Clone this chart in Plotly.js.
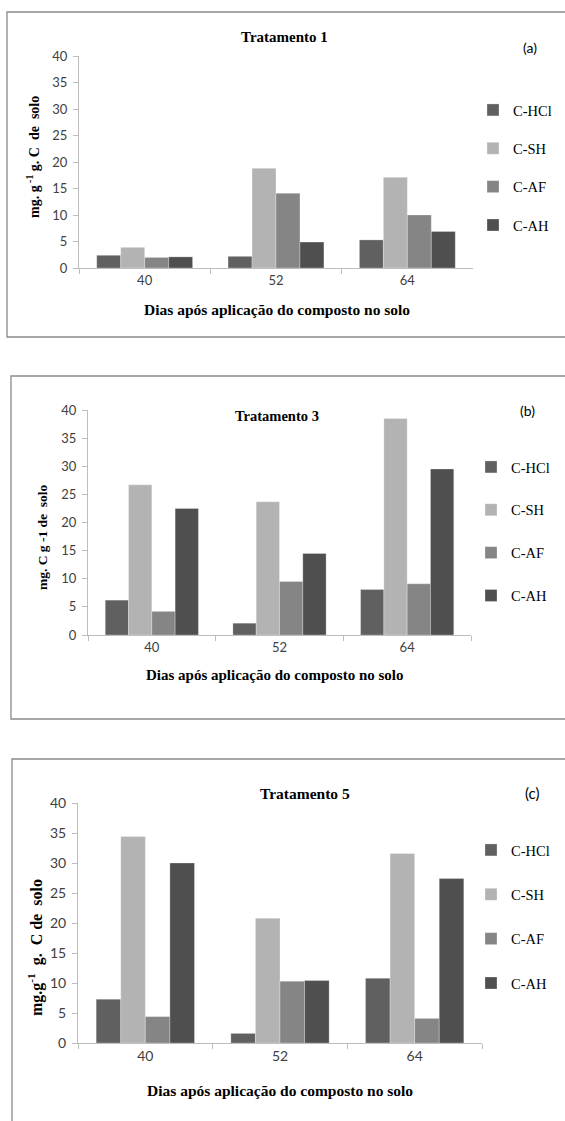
<!DOCTYPE html>
<html>
<head>
<meta charset="utf-8">
<script src="https://cdn.plot.ly/plotly-3.0.1.min.js"></script>
<style>
  html, body { margin: 0; padding: 0; background: #ffffff; }
  #chart { width: 565px; height: 1121px; }
</style>
</head>
<body>
<div id="chart"></div>
<script>
// Days after compost application (categories)
const days = ['40', '52', '64'];
// Carbon fractions
const fractions = ['C-HCl', 'C-SH', 'C-AF', 'C-AH'];

// Tratamento 1 (mg C g-1 soil)
const t1_hcl = [2.4, 2.2, 5.3];
const t1_sh  = [3.9, 18.8, 17.1];
const t1_af  = [2.0, 14.1, 10.0];
const t1_ah  = [2.1, 4.9, 6.9];

// Tratamento 3
const t3_hcl = [6.2, 2.1, 8.1];
const t3_sh  = [26.7, 23.7, 38.5];
const t3_af  = [4.2, 9.5, 9.1];
const t3_ah  = [22.5, 14.5, 29.5];

// Tratamento 5
const t5_hcl = [7.3, 1.6, 10.8];
const t5_sh  = [34.4, 20.8, 31.6];
const t5_af  = [4.4, 10.3, 4.1];
const t5_ah  = [30.0, 10.4, 27.4];

const fractionColors = ['#606060', '#b3b3b3', '#858585', '#4f4f4f'];

const W = 565, H = 1121;
const fx = px => px / W;
const fy = py => 1 - py / H;

const panels = [
  { key: '',  series: [t1_hcl, t1_sh, t1_af, t1_ah],
    ytitle: 'mg. g<sup> -1</sup> g. C\u00a0 de\u00a0 solo' },
  { key: '2', series: [t3_hcl, t3_sh, t3_af, t3_ah],
    ytitle: 'mg. C g -1 de\u00a0 solo' },
  { key: '3', series: [t5_hcl, t5_sh, t5_af, t5_ah],
    ytitle: 'mg.g<sup>-1</sup>\u00a0 g.\u00a0 C de\u00a0 solo' }
];

const traces = [];
panels.forEach((p, pi) => {
  p.series.forEach((vals, i) => {
    traces.push({
      type: 'bar',
      x: days,
      y: vals,
      name: fractions[i],
      xaxis: 'x' + p.key,
      yaxis: 'y' + p.key,
      legend: 'legend' + p.key,
      legendgroup: 'g' + pi + '_' + i,
      marker: { color: fractionColors[i],
                line: { color: 'rgba(255,255,255,0.35)', width: 0.8 } },
      hoverinfo: 'x+y+name'
    });
  });
});

const serif = 'Liberation Serif, Times New Roman, serif';
const sans = 'Lato, Open Sans, sans-serif';

function xAxis(domain, anchor, size) {
  return {
    domain: domain, anchor: anchor, type: 'category',
    showline: true, linecolor: '#bdbdbd', linewidth: 1,
    ticks: 'outside', tickson: 'boundaries', ticklen: 5,
    tickcolor: '#bdbdbd', tickwidth: 1,
    tickfont: { family: sans, size: size, color: '#404040' },
    showgrid: false, zeroline: false, fixedrange: true
  };
}
function yAxis(domain, anchor, size) {
  return {
    domain: domain, anchor: anchor, range: [0, 40],
    tick0: 0, dtick: 5,
    showline: true, linecolor: '#bdbdbd', linewidth: 1,
    ticks: 'outside', ticklen: 5, tickcolor: '#bdbdbd', tickwidth: 1,
    ticklabelstandoff: 3,
    tickfont: { family: sans, size: size, color: '#404040' },
    showgrid: false, zeroline: false, fixedrange: true
  };
}
function legendAt(left, top, gap) {
  return {
    x: fx(left), y: fy(top), xanchor: 'left', yanchor: 'top',
    xref: 'paper', yref: 'paper',
    font: { family: serif, size: 14.5, color: '#000000' },
    bgcolor: 'rgba(0,0,0,0)', borderwidth: 0,
    tracegroupgap: gap, itemwidth: 30, itemclick: false, itemdoubleclick: false
  };
}
function text(str, x, y, size, opts) {
  return Object.assign({
    text: str, x: fx(x), y: fy(y), xref: 'paper', yref: 'paper',
    xanchor: 'center', yanchor: 'middle', showarrow: false,
    font: { family: serif, size: size, color: '#000000' }
  }, opts || {});
}
function letter(str, x, y, size) {
  return text(str, x, y, size, { font: { family: sans, size: size, color: '#000000' } });
}

const border = { color: '#8a8a8a', width: 1.3 };
const xTitle = '<b>Dias após aplicação do composto no solo</b>';

const layout = {
  width: W, height: H,
  margin: { l: 0, r: 0, t: 0, b: 0 },
  paper_bgcolor: '#ffffff', plot_bgcolor: 'rgba(0,0,0,0)',
  barmode: 'group', bargap: 0.27, bargroupgap: 0,
  showlegend: true,
  xaxis:  xAxis([fx(79), fx(473)], 'y', 13),
  yaxis:  yAxis([fy(268), fy(56)], 'x', 13),
  xaxis2: xAxis([fx(88), fx(471)], 'y2', 13),
  yaxis2: yAxis([fy(635), fy(410)], 'x2', 13),
  xaxis3: xAxis([fx(78), fx(482)], 'y3', 14),
  yaxis3: yAxis([fy(1043), fy(803)], 'x3', 14),
  legend:  legendAt(473, 94, 16.5),
  legend2: legendAt(471, 451, 21),
  legend3: legendAt(471, 834, 22.5),
  shapes: [
    { type: 'rect', xref: 'paper', yref: 'paper', x0: fx(7),  x1: fx(575), y0: fy(12),  y1: fy(337),  line: border, layer: 'below' },
    { type: 'rect', xref: 'paper', yref: 'paper', x0: fx(11), x1: fx(575), y0: fy(376), y1: fy(719),  line: border, layer: 'below' },
    { type: 'rect', xref: 'paper', yref: 'paper', x0: fx(12), x1: fx(575), y0: fy(759), y1: fy(1135), line: border, layer: 'below' }
  ],
  annotations: [
    // panel (a)
    text('<b>Tratamento 1</b>', 284, 37, 15),
    letter('(a)', 530, 48, 14),
    text('<b>' + panels[0].ytitle + '</b>', 33, 157, 14, { textangle: -90 }),
    text(xTitle, 277, 310, 15.5),
    // panel (b)
    text('<b>Tratamento 3</b>', 277, 416, 14.5),
    letter('(b)', 527, 410, 14),
    text('<b>' + panels[1].ytitle + '</b>', 43, 537, 13.5, { textangle: -90 }),
    text(xTitle, 275, 675, 15),
    // panel (c)
    text('<b>Tratamento 5</b>', 305, 793, 15.5),
    letter('(c)', 532, 793, 15),
    text('<b>' + panels[2].ytitle + '</b>', 35, 948, 16, { textangle: -90 }),
    text(xTitle, 280, 1090, 15.5)
  ]
};

Plotly.newPlot('chart', traces, layout, { displayModeBar: false });
</script>
</body>
</html>
